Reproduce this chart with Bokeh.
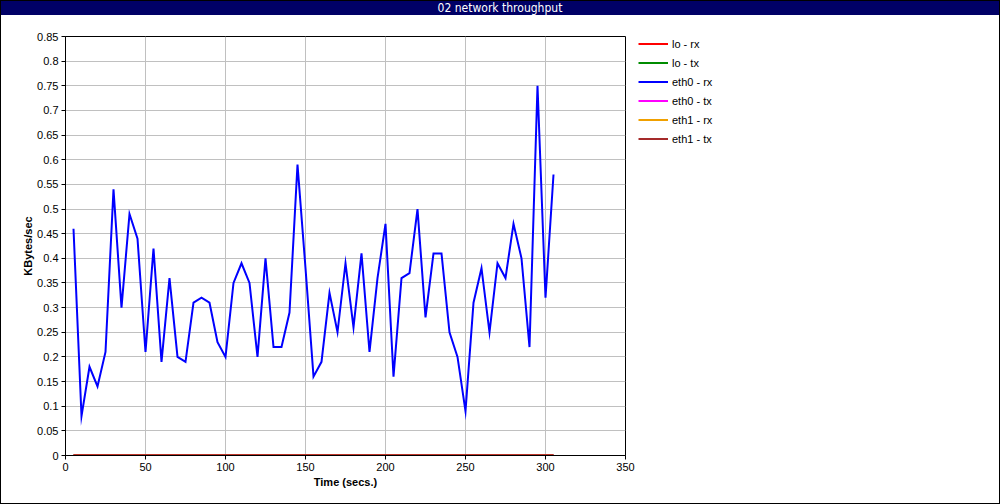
from bokeh.plotting import figure
from bokeh.models import Range1d, FixedTicker, Legend, LegendItem, Div, ColumnDataSource
from bokeh.layouts import column, row
from bokeh.embed import file_html
from bokeh.resources import INLINE

title_text = "02 network throughput"
x_label = "Time (secs.)"
y_label = "KBytes/sec"

time_s = [5, 10, 15, 20, 25, 30, 35, 40, 45, 50, 55, 60, 65, 70, 75, 80, 85, 90, 95, 100,
          105, 110, 115, 120, 125, 130, 135, 140, 145, 150, 155, 160, 165, 170, 175, 180,
          185, 190, 195, 200, 205, 210, 215, 220, 225, 230, 235, 240, 245, 250, 255, 260,
          265, 270, 275, 280, 285, 290, 295, 300, 305]

eth0_rx = [0.46, 0.08, 0.18, 0.14, 0.21, 0.54, 0.30, 0.49, 0.44, 0.21, 0.42, 0.19, 0.36,
           0.20, 0.19, 0.31, 0.32, 0.31, 0.23, 0.20, 0.35, 0.39, 0.35, 0.20, 0.40, 0.22,
           0.22, 0.29, 0.59, 0.38, 0.16, 0.19, 0.33, 0.25, 0.39, 0.26, 0.41, 0.21, 0.36,
           0.47, 0.16, 0.36, 0.37, 0.50, 0.28, 0.41, 0.41, 0.25, 0.20, 0.09, 0.31, 0.38,
           0.25, 0.39, 0.36, 0.47, 0.40, 0.22, 0.75, 0.32, 0.57]

lo_rx = [0.0] * 61
lo_tx = [0.0] * 61
eth0_tx = [0.0] * 61
eth1_rx = [0.0] * 61
eth1_tx = [0.0] * 61

series_names = ["lo - rx", "lo - tx", "eth0 - rx", "eth0 - tx", "eth1 - rx", "eth1 - tx"]
series_values = [lo_rx, lo_tx, eth0_rx, eth0_tx, eth1_rx, eth1_tx]
series_colors = ["#ff0000", "#008c00", "#0000ff", "#ff00ff", "#f0a000", "#a52a2a"]

x_ticks = [0, 50, 100, 150, 200, 250, 300, 350]
y_ticks = [0, 0.05, 0.1, 0.15, 0.2, 0.25, 0.3, 0.35, 0.4, 0.45, 0.5, 0.55, 0.6, 0.65,
           0.7, 0.75, 0.8, 0.85]
y_tick_labels = ["0", "0.05", "0.1", "0.15", "0.2", "0.25", "0.3", "0.35", "0.4", "0.45",
                 "0.5", "0.55", "0.6", "0.65", "0.7", "0.75", "0.8", "0.85"]

FONT = "Liberation Sans"

# main plot: frame 560 x 419
p = figure(width=634, height=488, output_backend="svg", toolbar_location=None,
           x_range=Range1d(0, 350), y_range=Range1d(0, 0.85),
           min_border_left=64, min_border_right=10, min_border_top=21, min_border_bottom=48,
           margin=0)
p.background_fill_color = "white"
p.border_fill_color = "white"
p.outline_line_color = "black"
p.outline_line_width = 1

for ax in (p.xaxis[0], p.yaxis[0]):
    ax.axis_line_color = "black"
    ax.major_tick_line_color = "black"
    ax.minor_tick_line_color = None
    ax.major_tick_in = 0
    ax.major_tick_out = 4
    ax.major_label_text_font = FONT
    ax.major_label_text_font_size = "11px"
    ax.major_label_text_color = "black"
    ax.axis_label_text_font = FONT
    ax.axis_label_text_font_size = "11px"
    ax.axis_label_text_font_style = "bold"
    ax.axis_label_text_color = "black"
    ax.major_label_standoff = 3

p.xaxis.ticker = FixedTicker(ticks=x_ticks)
p.yaxis.ticker = FixedTicker(ticks=y_ticks)
p.yaxis.major_label_overrides = {t: l for t, l in zip(y_ticks, y_tick_labels)}
p.xaxis.axis_label = x_label
p.yaxis.axis_label = y_label
p.xaxis.axis_label_standoff = 2
p.yaxis.axis_label_standoff = 0

p.xgrid.grid_line_color = "#c0c0c0"
p.ygrid.grid_line_color = "#c0c0c0"
p.xgrid.ticker = FixedTicker(ticks=x_ticks)
p.ygrid.ticker = FixedTicker(ticks=y_ticks)

order = [5, 4, 3, 1, 2, 0]
for i in order:
    src = ColumnDataSource(dict(x=time_s, y=series_values[i]))
    p.line("x", "y", source=src, line_color=series_colors[i], line_width=2,
           line_join="miter")

# legend panel to the right of the plot
lp = figure(width=364, height=488, output_backend="svg", toolbar_location=None,
            x_range=Range1d(0, 1), y_range=Range1d(0, 1),
            min_border=0, margin=0)
lp.axis.visible = False
lp.grid.visible = False
lp.outline_line_color = None
lp.background_fill_color = "white"
lp.border_fill_color = "white"

nan = float("nan")
legend_renderers = []
for i in range(6):
    r = lp.line(x=[nan], y=[nan], line_color=series_colors[i], line_width=2)
    legend_renderers.append(r)

legend = Legend(items=[LegendItem(label=series_names[i], renderers=[legend_renderers[i]])
                       for i in range(6)],
                location=(3, 307), padding=0, margin=0, spacing=0,
                glyph_width=30, glyph_height=19, label_height=19, label_standoff=4,
                label_text_font=FONT, label_text_font_size="11px",
                label_text_color="black", border_line_color=None,
                background_fill_alpha=0)
lp.add_layout(legend, "center")

title_div = Div(text=title_text, width=998, height=14, margin=0,
                styles={"background-color": "#000066", "color": "white",
                        "text-align": "center", "font-size": "12px",
                        "line-height": "14px",
                        "font-family": "'Liberation Sans Narrow', 'DejaVu Sans Condensed', 'Liberation Sans', sans-serif"})

layout = column(title_div, row(p, lp, spacing=0, margin=0), spacing=0, margin=0,
                styles={"border": "1px solid black"})

open("out.html", "w").write(file_html(layout, INLINE))
